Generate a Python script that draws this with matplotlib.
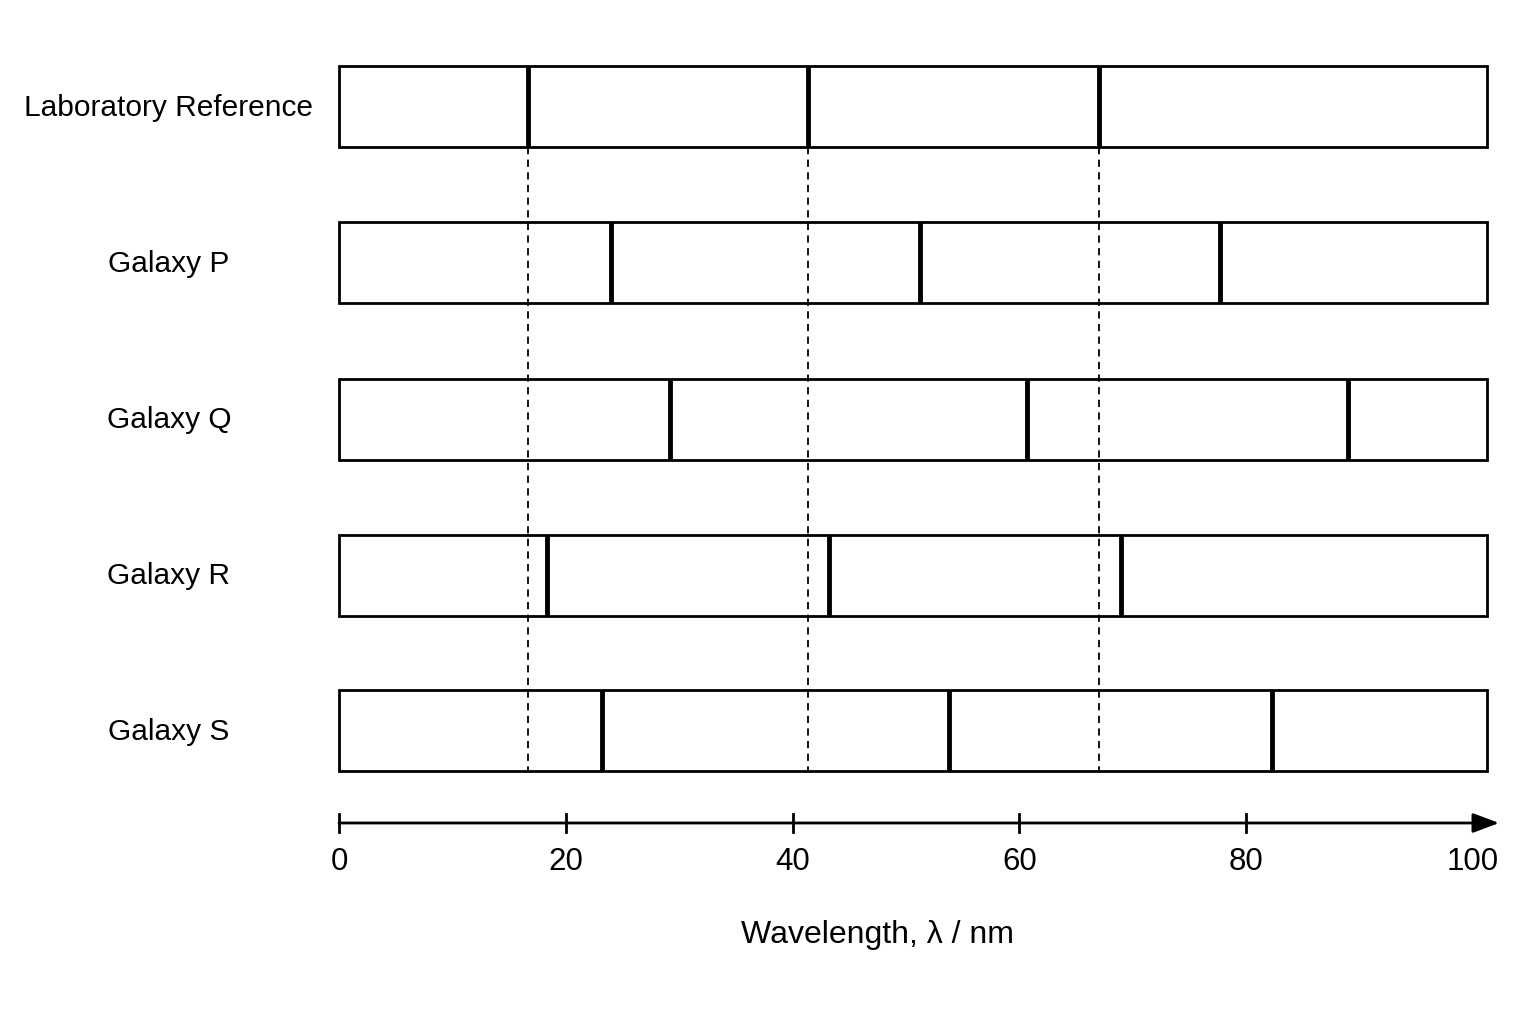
import matplotlib.pyplot as plt
from matplotlib.patches import Rectangle

plt.rcParams['font.family'] = ['Liberation Sans', 'DejaVu Sans']

# spectra names and absorption line wavelengths (nm)
names = ["Laboratory Reference", "Galaxy P", "Galaxy Q", "Galaxy R", "Galaxy S"]
lab_lines = [16.7, 41.4, 67.0]
galaxy_lines = [
    [24.0, 51.2, 77.7],
    [29.2, 60.7, 89.0],
    [18.3, 43.2, 69.0],
    [23.2, 53.8, 82.3],
]
ticks = [0, 20, 40, 60, 80, 100]

W, H = 1536, 1024
fig = plt.figure(figsize=(W / 100, H / 100), dpi=100)
x0, x1 = 339, 1473  # pixel positions of 0 and 100
ax = fig.add_axes([x0 / W, 0, (x1 - x0) / W, 1])
ax.set_xlim(0, 100)
ax.set_ylim(H, 0)
ax.axis('off')

row_top = [66, 222, 379, 535, 690]
box_h = 81
x_end = 101.2

all_lines = [lab_lines] + galaxy_lines
for name, top, lines in zip(names, row_top, all_lines):
    ax.add_patch(Rectangle((0, top), x_end, box_h, fill=False, lw=2, ec='black', clip_on=False))
    for w in lines:
        ax.plot([w, w], [top, top + box_h], color='black', lw=3.5, clip_on=False, solid_capstyle='butt')
    ax.text(-15, top + box_h / 2 + 1, name, ha='center', va='center', fontsize=21.5, clip_on=False)

# dashed guides from reference lines
for w in lab_lines:
    ax.plot([w, w], [row_top[0] + box_h, row_top[-1] + box_h], color='black', lw=1.3,
            ls=(0, (4, 3)), clip_on=False)

# wavelength axis
axis_y = 823
ax.annotate('', xy=(102.3, axis_y), xytext=(0, axis_y),
            arrowprops=dict(arrowstyle='-|>,head_length=1.6,head_width=0.6', lw=2, color='black',
                            shrinkA=0, shrinkB=0), annotation_clip=False)
for t in ticks[:-1]:
    ax.plot([t, t], [axis_y - 9, axis_y + 9], color='black', lw=2, clip_on=False)
for t in ticks:
    ax.text(t, 862, str(t), ha='center', va='center', fontsize=22.5, clip_on=False)
ax.text(47.5, 935, "Wavelength, λ / nm", ha='center', va='center', fontsize=23, clip_on=False)

fig.savefig('out.png', dpi=100, facecolor='white')
